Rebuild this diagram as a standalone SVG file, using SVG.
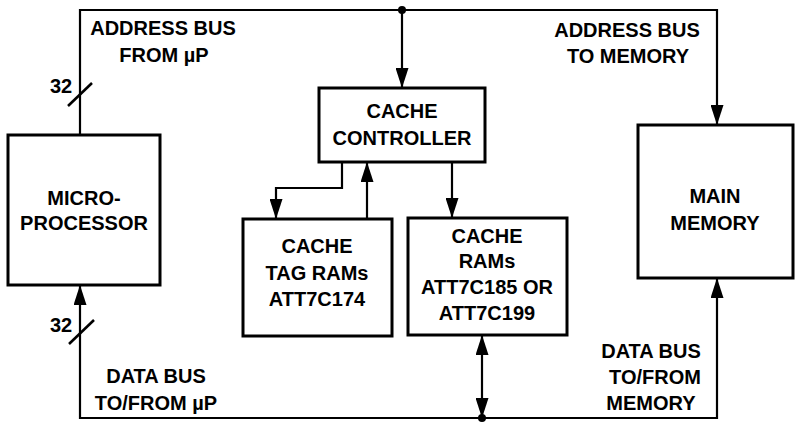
<svg xmlns="http://www.w3.org/2000/svg" width="795" height="423" viewBox="0 0 795 423">
<style>
  .box { fill: #fff; stroke: #000; stroke-width: 3; }
  .wire { fill: none; stroke: #000; stroke-width: 2.2; }
  .tick { fill: none; stroke: #000; stroke-width: 2.6; }
  text { font-family: "Liberation Sans", Arial, sans-serif; font-weight: bold; font-size: 20px; fill: #000; text-anchor: middle; }
</style>
<defs>
  <marker id="arr" viewBox="0 0 20 13" markerWidth="20" markerHeight="13" refX="20" refY="6.5" markerUnits="userSpaceOnUse" orient="auto-start-reverse">
    <path d="M0,0 L20,6.5 L0,13 z" fill="#000"/>
  </marker>
</defs>
<rect width="795" height="423" fill="#fff"/>

<g id="connectors">
  <path class="wire" d="M80,135 V10 H717 V125" marker-end="url(#arr)"/>
  <path class="wire" d="M402,10 V88" marker-end="url(#arr)"/>
  <path class="wire" d="M342,162 V188 H276 V219" marker-end="url(#arr)"/>
  <path class="wire" d="M367,219 V162" marker-end="url(#arr)"/>
  <path class="wire" d="M452,162 V218" marker-end="url(#arr)"/>
  <path class="wire" d="M482,335 V418" marker-start="url(#arr)" marker-end="url(#arr)"/>
  <path class="wire" d="M80,285 V418 H717 V278" marker-start="url(#arr)" marker-end="url(#arr)"/>
  <circle cx="402" cy="10" r="4" fill="#000"/>
  <circle cx="482" cy="418" r="4" fill="#000"/>
  <line class="tick" x1="68" y1="106" x2="92" y2="83"/>
  <line class="tick" x1="69" y1="344" x2="94" y2="320"/>
  <text x="61" y="93">32</text>
  <text x="61" y="332">32</text>
  <text x="163" y="35">ADDRESS BUS</text>
  <text x="164" y="62">FROM µP</text>
  <text x="627" y="37">ADDRESS BUS</text>
  <text x="628" y="63">TO MEMORY</text>
  <text x="156" y="383">DATA BUS</text>
  <text x="156" y="410">TO/FROM µP</text>
  <text x="651" y="358">DATA BUS</text>
  <text x="655" y="384">TO/FROM</text>
  <text x="651" y="410">MEMORY</text>
</g>

<g id="microprocessor">
  <rect class="box" x="8" y="135" width="152" height="150"/>
  <text x="84" y="205">MICRO-</text>
  <text x="84" y="230">PROCESSOR</text>
</g>

<g id="cache-controller">
  <rect class="box" x="319" y="88" width="166" height="74"/>
  <text x="402" y="118">CACHE</text>
  <text x="402" y="145">CONTROLLER</text>
</g>

<g id="cache-tag-rams">
  <rect class="box" x="243" y="219" width="149" height="117"/>
  <text x="317" y="253">CACHE</text>
  <text x="317" y="280">TAG RAMs</text>
  <text x="317" y="306">ATT7C174</text>
</g>

<g id="cache-rams">
  <rect class="box" x="408" y="218" width="159" height="117"/>
  <text x="487" y="243">CACHE</text>
  <text x="487" y="268">RAMs</text>
  <text x="487" y="294">ATT7C185 OR</text>
  <text x="487" y="320">ATT7C199</text>
</g>

<g id="main-memory">
  <rect class="box" x="638" y="125" width="155" height="153"/>
  <text x="715" y="203">MAIN</text>
  <text x="715" y="230">MEMORY</text>
</g>
</svg>
